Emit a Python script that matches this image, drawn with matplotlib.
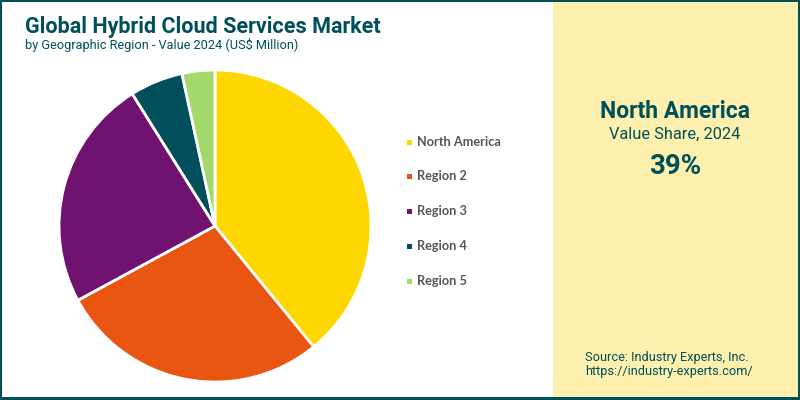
import matplotlib
matplotlib.use('Agg')
from matplotlib import pyplot as plt
from matplotlib.patches import Rectangle

regions = ['North America', 'Region 2', 'Region 3', 'Region 4', 'Region 5']
shares = [39.1, 28.0, 24.0, 5.5, 3.4]
colors = ['#FFD700', '#E95612', '#701270', '#004F5B', '#A3D96B']

teal = '#00505A'
panel = '#FDF0AE'
legend_grey = '#55565A'

plt.rcParams['font.family'] = ['Roboto', 'DejaVu Sans']

fig = plt.figure(figsize=(8, 4), dpi=100)

# background in pixel coords, y going down like the picture
bg = fig.add_axes([0, 0, 1, 1])
bg.set_xlim(0, 800)
bg.set_ylim(400, 0)
bg.axis('off')
bg.add_patch(Rectangle((553, 0), 247, 400, color=panel, lw=0))
bg.add_patch(Rectangle((0, 0), 800, 2, color=teal, lw=0))
bg.add_patch(Rectangle((0, 397), 800, 3, color=teal, lw=0))
bg.add_patch(Rectangle((0, 0), 2, 400, color=teal, lw=0))
bg.add_patch(Rectangle((798, 0), 2, 400, color=teal, lw=0))

bg.text(25, 27, 'Global Hybrid Cloud Services Market', fontsize=15.5, fontweight='bold',
        color=teal, va='center', ha='left')
bg.text(25, 45, 'by Geographic Region - Value 2024 (US$ Million)', fontsize=9.2,
        color=teal, va='center', ha='left')

bg.text(675, 112, regions[0], fontsize=16.5, fontweight='bold', color=teal, va='center', ha='center')
bg.text(675, 134, 'Value Share, 2024', fontsize=11.8, color=teal, va='center', ha='center')
bg.text(675, 166, '39%', fontsize=20, fontweight='bold', color=teal, va='center', ha='center')

bg.text(585, 357, 'Source: Industry Experts, Inc.', fontsize=9.2, color=teal, va='center', ha='left')
bg.text(585, 371, 'https://industry-experts.com/', fontsize=9.2, color=teal, va='center', ha='left')

# pie, centre (215, 226) radius 156 px
ax = fig.add_axes([(215 - 158) / 800, (400 - 226 - 158) / 400, 316 / 800, 316 / 400])
ax.pie(shares, colors=colors, startangle=90, counterclock=False, radius=156 / 158,
       wedgeprops={'edgecolor': 'white', 'linewidth': 2})
ax.set_xlim(-1, 1)
ax.set_ylim(-1, 1)

# legend
legend_y = [142, 176, 211, 246, 281]
for name, col, y in zip(regions, colors, legend_y):
    bg.add_patch(Rectangle((407, y - 2.5), 5, 5, color=col, lw=0))
    bg.text(417, y, name, family=['Lato', 'DejaVu Sans'], fontsize=9.2, fontweight='bold',
            color=legend_grey, va='center', ha='left')

fig.savefig('out.png', dpi=100)
